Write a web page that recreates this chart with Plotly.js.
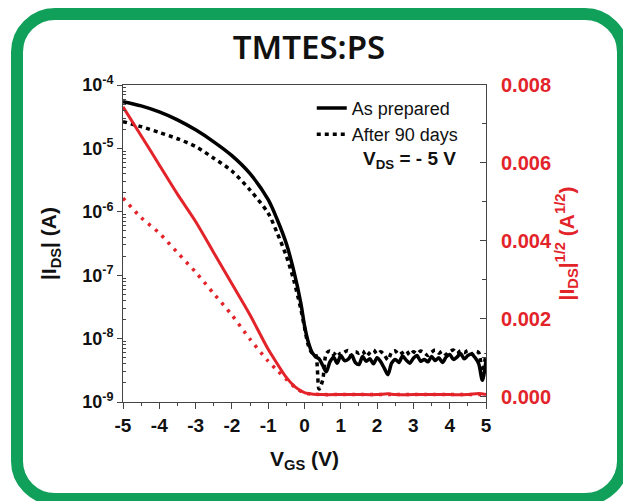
<!DOCTYPE html>
<html>
<head>
<meta charset="utf-8">
<script src="https://cdn.plot.ly/plotly-3.0.1.min.js"></script>
<style>
  html, body { margin:0; padding:0; background:#ffffff; }
  #wrap { position:relative; width:623px; height:501px; overflow:hidden; background:#fff; }
  #chart { position:absolute; left:0; top:0; width:623px; height:501px; }
  #frame { position:absolute; left:11px; top:8px; width:618px; height:497px; box-sizing:border-box;
           border:12px solid #10a05a; border-radius:44px; pointer-events:none; }
</style>
</head>
<body>
<div id="wrap">
  <div id="chart"></div>
  <div id="frame"></div>
</div>
<script>
// ---- data ----
const vgs = [-5,-4.5,-4,-3.5,-3,-2.5,-2,-1.5,-1,-0.75,-0.5,-0.3,-0.1,0,0.1,0.2,0.3,
  0.4,0.5,0.6,0.7,0.8,0.9,1.0,1.1,1.2,1.3,1.4,1.5,1.6,1.7,1.8,1.9,2.0,2.1,2.2,2.3,2.4,2.5,
  2.6,2.7,2.8,2.9,3.0,3.1,3.2,3.3,3.4,3.5,3.6,3.7,3.8,3.9,4.0,4.1,4.2,4.3,4.4,4.5,4.6,4.7,
  4.8,4.9,5.0];

const idsPrepared = [5.46e-5,4.68e-5,3.76e-5,2.82e-5,1.96e-5,1.27e-5,7.7e-6,4.0e-6,1.55e-6,7.5e-7,
  3.15e-7,1.2e-7,3.6e-8,1.6e-8,9.0e-9,6.2e-9,5.2e-9,
  4.8e-9,3.8e-9,3.0e-9,4.3e-9,5.1e-9,4.1e-9,5.4e-9,4.5e-9,4.7e-9,5.5e-9,4.2e-9,3.9e-9,5.2e-9,
  4.4e-9,4.8e-9,4.0e-9,5.0e-9,4.3e-9,3.4e-9,2.7e-9,4.1e-9,4.7e-9,4.2e-9,5.3e-9,4.6e-9,4.1e-9,
  4.9e-9,5.4e-9,4.4e-9,4.7e-9,4.3e-9,5.2e-9,4.5e-9,5.0e-9,4.2e-9,5.1e-9,5.6e-9,4.7e-9,5.1e-9,
  5.8e-9,4.8e-9,5.4e-9,5.7e-9,5.0e-9,4.0e-9,2.2e-9,4.5e-9];

const idsAged = [2.65e-5,2.2e-5,1.78e-5,1.42e-5,1.07e-5,7.0e-6,4.4e-6,2.2e-6,9.5e-7,4.6e-7,
  2.0e-7,8.5e-8,2.9e-8,1.5e-8,8.0e-9,6.0e-9,5.8e-9,
  1.6e-9,2.2e-9,5.8e-9,6.4e-9,5.6e-9,6.3e-9,5.5e-9,6.1e-9,6.5e-9,5.4e-9,6.2e-9,5.9e-9,6.4e-9,
  5.3e-9,6.0e-9,6.6e-9,5.7e-9,6.2e-9,5.5e-9,4.6e-9,6.1e-9,6.4e-9,5.6e-9,6.0e-9,6.5e-9,5.5e-9,
  6.2e-9,5.8e-9,6.4e-9,6.0e-9,5.4e-9,6.1e-9,6.6e-9,5.9e-9,6.3e-9,5.6e-9,6.2e-9,6.6e-9,5.8e-9,
  6.4e-9,6.0e-9,6.5e-9,5.7e-9,6.3e-9,6.0e-9,3.0e-9,5.9e-9];

const vgsSqrt = [-5,-4.5,-4,-3.5,-3,-2.5,-2,-1.5,-1,-0.75,-0.5,-0.25,0,0.25,0.5,1,1.5,2,2.3,2.5,3,3.5,4,4.5,4.8,5];
const sqrtPrepared = [0.00744,0.0067,0.00595,0.0052,0.0045,0.0037,0.0029,0.0021,0.00122,0.00085,
  0.0005,0.00025,0.00011,0.00007,0.00006,0.00006,0.00006,0.00006,0.00008,0.00006,0.00006,
  0.00006,0.00006,0.00006,0.00009,0.00006];
const sqrtAged = [0.0051,0.0046,0.0042,0.0037,0.0032,0.00265,0.0021,0.00148,0.00092,0.00068,
  0.00045,0.00024,0.0001,0.00007,0.00006,0.00006,0.00006,0.00006,0.00006,0.00006,0.00006,
  0.00006,0.00006,0.00006,0.00006,0.00006];

const xTickVals = [-5,-4,-3,-2,-1,0,1,2,3,4,5];
const xTickText = ['-5','-4','-3','-2','-1','0','1','2','3','4','5'];
const yTickVals = [1e-9,1e-8,1e-7,1e-6,1e-5,1e-4];
const yTickText = ['10<sup>-9</sup>','10<sup>-8</sup>','10<sup>-7</sup>','10<sup>-6</sup>','10<sup>-5</sup>','10<sup>-4</sup>'];
const y2TickVals = [0,0.002,0.004,0.006,0.008];
const y2TickText = ['0.000','0.002','0.004','0.006','0.008'];
const seriesNames = ['As prepared','After 90 days'];
const titleText = 'TMTES:PS';

// minor log ticks (2..9 per decade)
const yMinor = [];
for (let e = -9; e < -4; e++) for (let m = 2; m <= 9; m++) yMinor.push(m * Math.pow(10, e));

const RED = '#e3232a';
const AX = '#444444';
const F = 'Arial, "Liberation Sans", sans-serif';

const traces = [
  {x: vgsSqrt, y: sqrtAged, yaxis:'y2', mode:'lines', showlegend:false,
   line:{color:RED, width:3.5, dash:'3px,6px', shape:'spline', smoothing:0.8}},
  {x: vgsSqrt, y: sqrtPrepared, yaxis:'y2', mode:'lines', showlegend:false,
   line:{color:RED, width:3, shape:'spline', smoothing:0.8}},
  {x: vgs, y: idsPrepared, mode:'lines', name: seriesNames[0],
   line:{color:'#000', width:3.5, shape:'spline', smoothing:0.8}},
  {x: vgs, y: idsAged, mode:'lines', name: seriesNames[1],
   line:{color:'#000', width:3.5, dash:'4px,4px', shape:'spline', smoothing:0.8}}
];

const layout = {
  width:623, height:501,
  margin:{l:123, r:137, t:85, b:99, pad:0},
  paper_bgcolor:'rgba(0,0,0,0)', plot_bgcolor:'#fff',
  showlegend:true,
  legend:{x:0.52, y:0.985, xanchor:'left', yanchor:'top', bgcolor:'rgba(0,0,0,0)',
          font:{family:F, size:18, color:'#111'}, traceorder:'normal', tracegroupgap:0},
  title:{text:titleText, x:0.496, xref:'container', xanchor:'center', y:0.905, yref:'container', yanchor:'middle',
         font:{family:'"Noto Sans", sans-serif', size:33, weight:600, color:'#111'}},
  xaxis:{range:[-5,5], tickvals:xTickVals, ticktext:xTickText, ticks:'outside', ticklen:6,
         tickcolor:AX, showline:true, linecolor:AX, linewidth:1, mirror:true, showgrid:false, zeroline:false,
         tickfont:{family:F, size:19, weight:'bold', color:'#111'},
         minor:{dtick:0.5, tick0:0, ticks:'outside', ticklen:3, tickcolor:AX, showgrid:false},
         title:{text:'V<sub>GS</sub> (V)', standoff:16, font:{family:F, size:21, weight:'bold', color:'#111'}}},
  yaxis:{type:'log', range:[-9,-4], tickvals:yTickVals, ticktext:yTickText, ticks:'outside', ticklen:5,
         tickcolor:AX, showline:true, linecolor:AX, linewidth:1, showgrid:false, zeroline:false,
         tickfont:{family:F, size:18, weight:'bold', color:'#111'},
         minor:{tickvals:yMinor, ticks:'inside', ticklen:3, tickcolor:AX, showgrid:false},
         title:{text:'|I<sub>DS</sub>| (A)', standoff:19, font:{family:F, size:21, weight:'bold', color:'#111'}}},
  yaxis2:{overlaying:'y', side:'right', range:[-0.00013,0.008], tickvals:y2TickVals, ticktext:y2TickText,
          ticks:'inside', ticklen:6, tickcolor:AX, showline:true, linecolor:AX, linewidth:1,
          showgrid:false, zeroline:false, ticklabelstandoff:10,
          tickfont:{family:F, size:20, weight:'bold', color:RED},
          minor:{dtick:0.001, tick0:0, ticks:'inside', ticklen:4, tickcolor:AX, showgrid:false},
          title:{text:'|I<sub>DS</sub>|<sup>1/2</sup> (A<sup>1/2</sup>)', standoff:5,
                 font:{family:F, size:21, weight:'bold', color:RED}}},
  annotations:[
    {xref:'paper', yref:'paper', x:0.79, y:0.763, xanchor:'center', yanchor:'middle', showarrow:false,
     text:'V<sub>DS</sub> = - 5 V', font:{family:F, size:19, weight:'bold', color:'#111'}}
  ]
};

Plotly.newPlot('chart', traces, layout, {displayModeBar:false, staticPlot:true});
</script>
</body>
</html>
